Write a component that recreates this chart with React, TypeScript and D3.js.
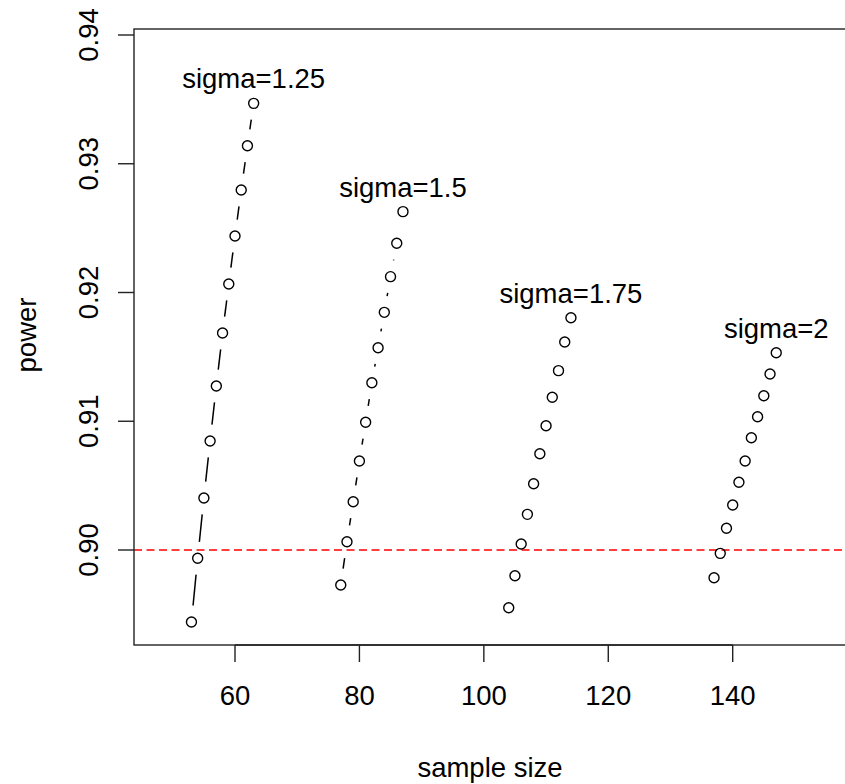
import React from "react";
import * as d3 from "d3";

const sigmas = ["1.25", "1.5", "1.75", "2"];
const n125 = [53, 54, 55, 56, 57, 58, 59, 60, 61, 62, 63];
const p125 = [0.89441, 0.89936, 0.90404, 0.90847, 0.91274, 0.91685, 0.92066, 0.92439, 0.92796, 0.9314, 0.93469];
const n150 = [77, 78, 79, 80, 81, 82, 83, 84, 85, 86, 87];
const p150 = [0.89728, 0.90064, 0.90375, 0.90691, 0.90992, 0.91299, 0.91571, 0.91846, 0.92123, 0.92382, 0.92628];
const n175 = [104, 105, 106, 107, 108, 109, 110, 111, 112, 113, 114];
const p175 = [0.89552, 0.898, 0.90047, 0.90277, 0.90515, 0.90748, 0.90965, 0.91186, 0.91393, 0.91616, 0.91804];
const n200 = [137, 138, 139, 140, 141, 142, 143, 144, 145, 146, 147];
const p200 = [0.89785, 0.89974, 0.90169, 0.9035, 0.90526, 0.90691, 0.90872, 0.91035, 0.91198, 0.91367, 0.91532];
const xTicks = [60, 80, 100, 120, 140];
const yTicks = [0.9, 0.91, 0.92, 0.93, 0.94];
const threshold = 0.9;

const W = 845;
const H = 784;
const box = { left: 134, top: 29, bottom: 645, right: 900 };
const FONT = "Liberation Sans, Arial, sans-serif";
const FS = 27.5;

export default function App() {
  const x = d3.scaleLinear().domain([60, 140]).range([235, 732.7]);
  const y = d3.scaleLinear().domain([0.9, 0.94]).range([550, 35]);
  const series = [
    { label: sigmas[0], n: n125, p: p125 },
    { label: sigmas[1], n: n150, p: p150 },
    { label: sigmas[2], n: n175, p: p175 },
    { label: sigmas[3], n: n200, p: p200 },
  ];
  const gap = 16.5;
  const segs: { x1: number; y1: number; x2: number; y2: number }[] = [];
  series.forEach((s) => {
    for (let i = 0; i < s.n.length - 1; i++) {
      const ax = x(s.n[i]), ay = y(s.p[i]);
      const bx = x(s.n[i + 1]), by = y(s.p[i + 1]);
      const L = Math.hypot(bx - ax, by - ay);
      if (L <= 2 * gap) continue;
      const ux = (bx - ax) / L, uy = (by - ay) / L;
      segs.push({ x1: ax + ux * gap, y1: ay + uy * gap, x2: bx - ux * gap, y2: by - uy * gap });
    }
  });
  return (
    <svg width={W} height={H} style={{ position: "absolute", left: 0, top: 0, background: "#fff" }} fontFamily={FONT}>
      <rect x={0} y={0} width={W} height={H} fill="#fff" />
      <line x1={box.left} x2={W} y1={y(threshold)} y2={y(threshold)} stroke="#ff0000" strokeWidth={1.5} strokeDasharray="8 4.5" />
      {segs.map((s, i) => (
        <line key={i} x1={s.x1} y1={s.y1} x2={s.x2} y2={s.y2} stroke="#000" strokeWidth={1.5} />
      ))}
      {series.map((s) =>
        s.n.map((nv, i) => (
          <circle key={s.label + i} cx={x(nv)} cy={y(s.p[i])} r={5} fill="none" stroke="#000" strokeWidth={1.4} />
        ))
      )}
      {series.map((s) => {
        const last = s.n.length - 1;
        return (
          <text key={"l" + s.label} x={x(s.n[last])} y={y(s.p[last]) - 15} textAnchor="middle" fontSize={FS} fill="#000">
            {"sigma=" + s.label}
          </text>
        );
      })}
      <rect x={box.left} y={box.top} width={box.right - box.left} height={box.bottom - box.top} fill="none" stroke="#222" strokeWidth={1.4} />
      <line x1={x(60)} x2={x(140)} y1={box.bottom} y2={box.bottom} stroke="#222" strokeWidth={1.4} />
      {xTicks.map((t) => (
        <g key={"x" + t}>
          <line x1={x(t)} x2={x(t)} y1={box.bottom} y2={box.bottom + 17} stroke="#222" strokeWidth={1.4} />
          <text x={x(t)} y={705} textAnchor="middle" fontSize={FS} fill="#000">{String(t)}</text>
        </g>
      ))}
      {yTicks.map((t) => (
        <g key={"y" + t}>
          <line x1={box.left - 16} x2={box.left} y1={y(t)} y2={y(t)} stroke="#222" strokeWidth={1.4} />
          <text transform={`translate(98,${y(t)}) rotate(-90)`} textAnchor="middle" fontSize={FS} fill="#000">{t.toFixed(2)}</text>
        </g>
      ))}
      <text x={490} y={777} textAnchor="middle" fontSize={FS} fill="#000">sample size</text>
      <text transform={`translate(36,335) rotate(-90)`} textAnchor="middle" fontSize={FS} fill="#000">power</text>
    </svg>
  );
}
